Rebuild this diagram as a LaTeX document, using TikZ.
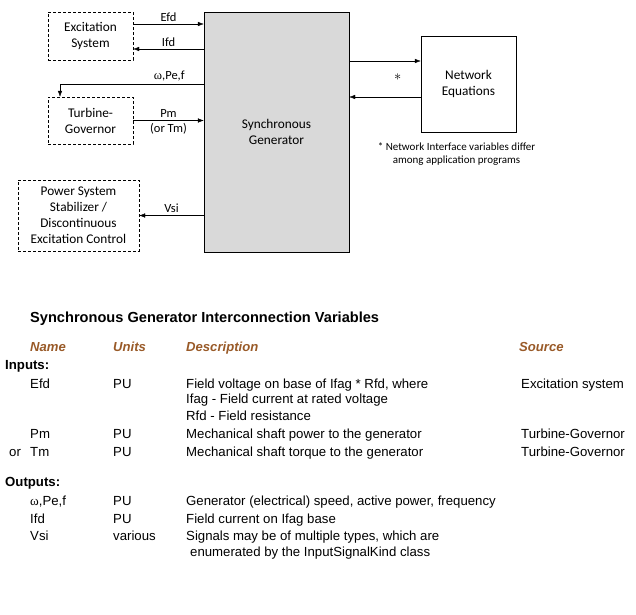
\documentclass[tikz,border=0pt]{standalone}
\usepackage
{
  fontspec,
  tikz,
}
\setmainfont{Carlito}
\newfontfamily\tabfont{Liberation Sans}
\newfontfamily\grkfont{Liberation Serif}
\usetikzlibrary{positioning, arrows.meta}
\definecolor{genfill}{RGB}{217,217,217}
\definecolor{hdrbrown}{RGB}{153,90,40}

\begin{document}
\begin{tikzpicture}[x=1pt, y=-1pt,
  blk/.style={draw, dash pattern=on 3pt off 2pt, align=center, inner sep=0pt,
              font=\fontsize{13.3}{16}\selectfont},
  sig/.style={-{Latex[length=6pt,width=4.5pt]}},
  lbl/.style={font=\fontsize{12.5}{15}\selectfont, inner sep=1pt},
  tab/.style={anchor=base west, inner sep=0pt, font=\tabfont\fontsize{13.2}{15}\selectfont},
  hdr/.style={anchor=base west, inner sep=0pt, text=hdrbrown,
              font=\tabfont\bfseries\itshape\fontsize{13.1}{15}\selectfont}]
\useasboundingbox (0,0) rectangle (636,614);
% block diagram
\node[draw, fill=genfill, minimum width=145pt, minimum height=240pt, align=center,
      font=\fontsize{13.3}{16}\selectfont] (gen) at (276.5,132) {Synchronous\\Generator};
\node[blk, minimum width=85pt, minimum height=48pt] (exc) at (90.5,36) {Excitation\\System};
\node[blk, minimum width=85pt, minimum height=47pt] (tgov) at (90.5,120.5) {Turbine-\\Governor};
\node[blk, minimum width=121pt, minimum height=71pt] (pss) at (78.5,215.5)
     {Power System\\Stabilizer /\\Discontinuous\\Excitation Control};
\node[draw, minimum width=95pt, minimum height=96pt, align=center,
      font=\fontsize{13.3}{16}\selectfont] (net) at (468.5,84) {Network\\Equations};

\draw[sig] ([yshift=12pt]exc.east) -- ([yshift=12pt]exc.east -| gen.west)
     node[lbl, above=1.5pt, midway] (efd) {Efd};
\draw[sig] ([yshift=-13pt]exc.east -| gen.west) -- ([yshift=-13pt]exc.east)
     node[lbl, above=1.5pt, midway] (ifd) {Ifd};
\draw[sig] ([yshift=13pt]tgov.north -| gen.west) -| ([xshift=-30.5pt]tgov.north)
     node[lbl, above=1.5pt, pos=0.12] (wpef) {{\grkfont ω},Pe,f};
\draw[sig] (tgov.east) -- (tgov.east -| gen.west)
     node[lbl, above=2pt, midway] (pm) {Pm}
     node[lbl, below=1.5pt, midway] (tm) {(or Tm)};
\draw[sig] (pss.east -| gen.west) -- (pss.east)
     node[lbl, above=1.5pt, midway] (vsi) {Vsi};
\draw[sig] ([yshift=23pt]net.west -| gen.east) -- ([yshift=23pt]net.west);
\draw[sig] ([yshift=-13pt]net.west) -- ([yshift=-13pt]net.west -| gen.east);
\node[inner sep=0pt, font=\fontsize{14}{16}\selectfont] (star)
     at ([xshift=-23pt,yshift=7pt]net.west) {$\ast$};
\node[below=10pt of net, xshift=-12pt, align=center, inner sep=0pt,
      font=\fontsize{11}{13}\selectfont] (note)
     {* Network Interface variables differ\\among application programs};

% table
\node[anchor=base west, inner sep=0pt, font=\tabfont\bfseries\fontsize{14.6}{17}\selectfont]
     (title) at (30,322) {Synchronous Generator Interconnection Variables};
\node[hdr] (hname) at (30,351) {Name};
\node[hdr] (hunits) at (113,351) {Units};
\node[hdr] (hdesc) at (186,351) {Description};
\node[hdr] (hsrc) at (519,351) {Source};

\node[tab, font=\tabfont\bfseries\fontsize{13.2}{15}\selectfont] (inputs) at (5,369) {Inputs:};
\node[tab] (nefd) at (30,388) {Efd};
\node[tab] (uefd) at (113,388) {PU};
\node[tab] (defd) at (186,388) {Field voltage on base of Ifag * Rfd, where};
\node[tab] (sefd) at (521,388) {Excitation system};
\node[tab] (difag) at (186,403) {Ifag - Field current at rated voltage};
\node[tab] (drfd) at (186,420) {Rfd - Field resistance};
\node[tab] (npm) at (30,438) {Pm};
\node[tab] (upm) at (113,438) {PU};
\node[tab] (dpm) at (186,438) {Mechanical shaft power to the generator};
\node[tab] (spm) at (521,438) {Turbine-Governor};
\node[tab] (ortm) at (9,456) {or};
\node[tab] (ntm) at (30,456) {Tm};
\node[tab] (utm) at (113,456) {PU};
\node[tab] (dtm) at (186,456) {Mechanical shaft torque to the generator};
\node[tab] (stm) at (521,456) {Turbine-Governor};

\node[tab, font=\tabfont\bfseries\fontsize{13.2}{15}\selectfont] (outputs) at (5,486) {Outputs:};
\node[tab] (nw) at (30,505) {{\grkfont ω},Pe,f};
\node[tab] (uw) at (113,505) {PU};
\node[tab] (dw) at (186,505) {Generator (electrical) speed, active power, frequency};
\node[tab] (nifd) at (30,523) {Ifd};
\node[tab] (uifd) at (113,523) {PU};
\node[tab] (difd) at (186,523) {Field current on Ifag base};
\node[tab] (nvsi) at (30,540) {Vsi};
\node[tab] (uvsi) at (113,540) {various};
\node[tab] (dvsi) at (186,540) {Signals may be of multiple types, which are};
\node[tab] (dvsi2) at (190,556) {enumerated by the InputSignalKind class};
\end{tikzpicture}
\end{document}
